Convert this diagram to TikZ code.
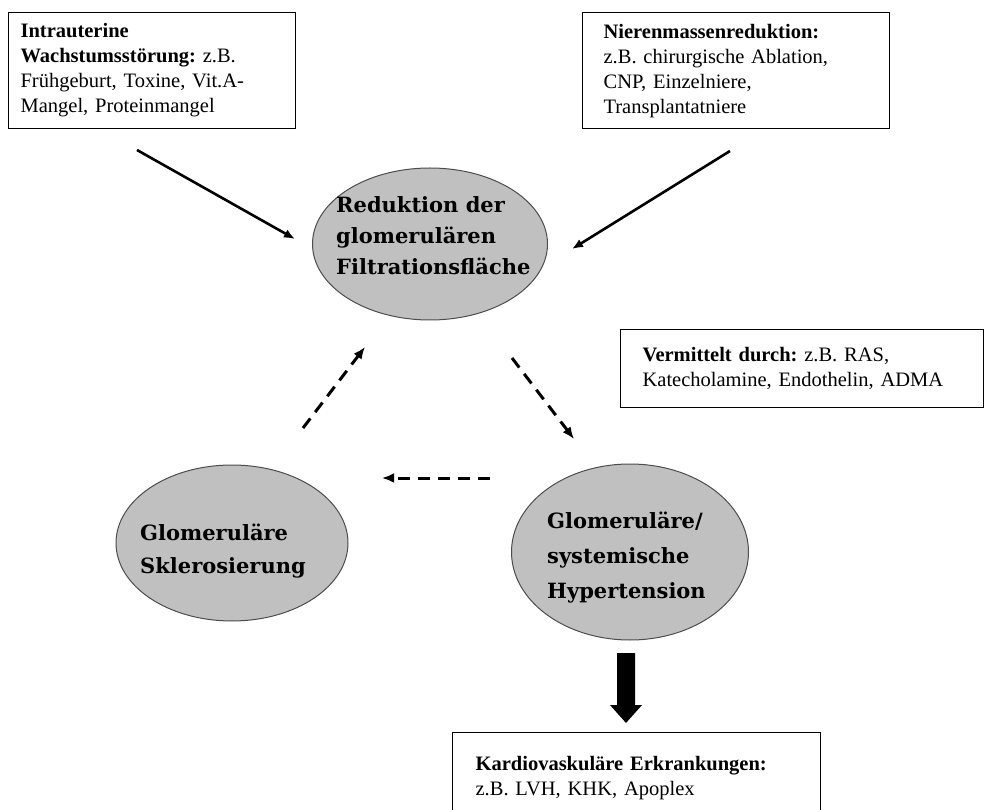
\documentclass[tikz,border=0pt]{standalone}
\usepackage{fontspec}
\setmainfont{Liberation Serif}
\newfontfamily\ellfont{DejaVu Serif}
\usetikzlibrary{shapes.geometric,arrows.meta}
\definecolor{ellgray}{RGB}{192,192,192}
\frenchspacing
\tikzset{
  txtbox/.style={draw=black, line width=1.2pt, rectangle, anchor=north west, align=left, inner ysep=0pt,
    font=\frenchspacing\fontsize{20.5}{25}\selectfont},
  ell/.style={draw=black!70, line width=1pt, fill=ellgray, ellipse, inner sep=0pt},
  elltext/.style={anchor=west, align=left, inner sep=0pt},
  solidarrow/.style={line width=2.6pt, -{Latex[length=11pt,width=9pt]}},
  dasharrow/.style={line width=3pt, dash pattern=on 12pt off 8pt, -{Latex[length=12pt,width=10pt]}}
}
\begin{document}
\begin{tikzpicture}[x=1pt,y=-1pt]
\useasboundingbox (0,0) rectangle (986,810);
\fill[white] (0,0) rectangle (986,810);

% boxes
\node[txtbox, minimum width=287pt, minimum height=116pt, text width=263pt, inner xsep=12pt] (b1) at (8,12)
  {\textbf{Intrauterine}\\\textbf{Wachstumsstörung:} z.B.\\Frühgeburt, Toxine, Vit.A-\\Mangel, Proteinmangel};
\node[txtbox, minimum width=286pt, minimum height=116pt, text width=265pt, inner xsep=21pt] (b2) at (582,12)
  {\textbf{Nierenmassenreduktion:}\\z.B. chirurgische Ablation,\\CNP, Einzelniere,\\Transplantatniere};
\node[txtbox, minimum width=363pt, minimum height=78pt, text width=319pt, inner xsep=22pt] (b3) at (620,329)
  {\textbf{Vermittelt durch:} z.B. RAS,\\Katecholamine, Endothelin, ADMA};
\node[txtbox, minimum width=368pt, text width=322pt, inner xsep=23pt, inner ysep=24pt] (b4) at (452,732)
  {\textbf{Kardiovaskuläre Erkrankungen:}\\z.B. LVH, KHK, Apoplex};

% ellipses
\node[ell, minimum width=235pt, minimum height=152pt] (e1) at (430,244) {};
\node[ell, minimum width=232pt, minimum height=156pt] (e2) at (232,543) {};
\node[ell, minimum width=237pt, minimum height=176pt] (e3) at (630,552) {};

\node[elltext, font=\ellfont\bfseries\fontsize{21}{31}\selectfont] (t1) at (336,236)
  {Reduktion der\\glomerulären\\Filtrationsfläche};
\node[elltext, font=\ellfont\bfseries\fontsize{21}{33}\selectfont] (t2) at (140,551)
  {Glomeruläre\\Sklerosierung};
\node[elltext, font=\ellfont\bfseries\fontsize{21}{35}\selectfont] (t3) at (547,558)
  {Glomeruläre/\\systemische\\Hypertension};

% connector end points
\coordinate (a1s) at (137,150); \coordinate (a1e) at (295,239);
\coordinate (a2s) at (730,151); \coordinate (a2e) at (572,249);
\coordinate (d1s) at (303,428); \coordinate (d1e) at (365,347);
\coordinate (d2s) at (512,358); \coordinate (d2e) at (574,439);
\coordinate (d3s) at (490,478); \coordinate (d3e) at (382,478);

\draw[solidarrow] (a1s) -- (a1e);
\draw[solidarrow] (a2s) -- (a2e);
\draw[dasharrow] (d1s) -- (d1e);
\draw[dasharrow] (d2s) -- (d2e);
\draw[dasharrow] (d3s) -- (d3e);

% thick arrow
\coordinate (ta) at (626,653);
\fill[black] (ta) ++(-9,0) -- ++(18,0) -- ++(0,52) -- ++(7,0) -- ++(-16,18) -- ++(-16,-18) -- ++(7,0) -- cycle;
\end{tikzpicture}
\end{document}
